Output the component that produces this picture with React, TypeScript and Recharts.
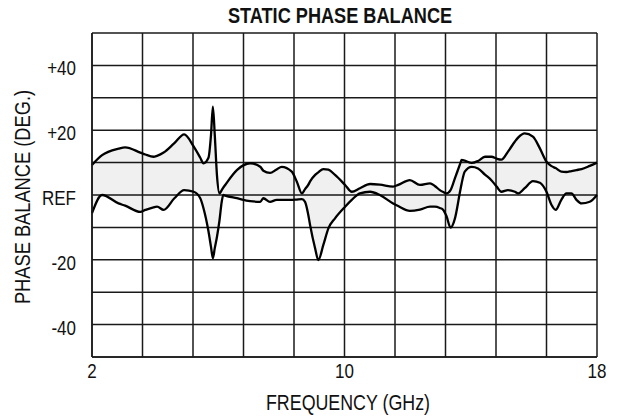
import { ComposedChart, Area, Line, XAxis, YAxis, CartesianGrid } from "recharts";

// frequency (GHz) where both traces were read
const freq = [
  2.0, 2.32, 2.84, 3.05, 3.53, 3.69, 3.95, 4.06, 4.27, 4.61, 4.92, 5.22, 5.43, 5.53, 5.69, 5.77,
  5.83, 5.89, 5.96, 6.04, 6.11, 6.16, 6.22, 6.59, 7.01, 7.33, 7.43, 7.64, 7.85, 8.01, 8.33, 8.49,
  8.65, 8.75, 8.85, 8.91, 9.07, 9.17, 9.33, 9.49, 9.7, 10.02, 10.23, 10.49, 10.81, 11.12, 11.54,
  11.7, 12.07, 12.39, 12.71, 12.86, 13.02, 13.13, 13.23, 13.36, 13.5, 13.66, 13.71, 13.81, 14.03,
  14.23, 14.45, 14.66, 14.82, 14.97, 15.18, 15.4, 15.5, 15.71, 15.97, 16.19, 16.4, 16.56, 16.69,
  16.87, 17.03, 17.19, 17.35, 17.51, 17.77, 18.0,
];

// upper trace (deg)
const upper = [
  9.3, 12.3, 14.3, 14.7, 13.1, 12.5, 11.8, 12.1, 13.1, 16.0, 18.7, 15.0, 11.5, 9.8, 11.5, 18.5,
  27.3, 18.5, 6.0, 0.5, 1.5, 2.3, 3.1, 7.7, 9.8, 8.7, 7.5, 6.8, 7.9, 8.7, 7.2, 4.1,
  0.5, 1.8, 3.1, 4.2, 6.2, 7.0, 8.0, 7.8, 6.2, 3.1, 1.0, 2.1, 3.4, 3.2, 2.6,
  3.1, 4.6, 3.1, 3.6, 2.8, 1.5, 0.9, 0.5, 1.5, 5.2, 9.5, 10.8, 10.6, 9.9,
  10.5, 11.8, 11.8, 11.2, 10.9, 13.4, 16.5, 17.7, 19.0, 18.0, 14.4, 10.3, 8.9, 8.3,
  7.2, 7.1, 7.4, 7.7, 8.0, 9.0, 10.0,
];

// lower trace (deg)
const lower = [
  -5.6, 0, -2.6, -3.3, -5.2, -4.6, -3.8, -3.6, -4.6, -1.0, 1.5, 1.0, -1.0, -4.0, -11.2, -16.0,
  -19.5, -16.4, -12.9, -7.8, -2.1, 0, -0.2, -1.0, -1.9, -2.1, -1.0, -2.1, -1.5, -1.5, -1.5, -1.4,
  -1.3, -2.1, -6.0, -9.3, -16.5, -20.1, -15.4, -10.3, -7.2, -3.6, -1.5, 0.5, 1.0, 0, -2.6,
  -3.4, -4.9, -4.5, -3.6, -3.6, -4.0, -4.6, -6.5, -10.1, -7.2, 1.0, 3.5, 7.2, 8.7,
  8.2, 6.3, 4.5, 2.6, 1.0, 1.5, 1.0, 0.5, 2.1, 4.3, 3.8, 1.0, -3.1, -4.6,
  -1.5, 0.5, 0.5, -1.5, -2.6, -2.1, 0,
];

const xTicks = [2, 3.6, 5.2, 6.8, 8.4, 10, 11.6, 13.2, 14.8, 16.4, 18];
const xLabels: Record<string, string> = { "2": "2", "10": "10", "18": "18" };
const yTicks = [-50, -40, -30, -20, -10, 0, 10, 20, 30, 40, 50];
const yLabels: Record<string, string> = { "40": "+40", "20": "+20", "0": "REF", "-20": "-20", "-40": "-40" };

const data = freq.map((f, i) => ({ f, hi: upper[i], lo: lower[i], band: [lower[i], upper[i]] }));

const FONT = "'Liberation Sans', Arial, sans-serif";
const INK = "#111";

function XTick({ x, y, payload }: any) {
  const t = xLabels[String(payload.value)];
  if (!t) return null;
  return (
    <text transform={`translate(${x} ${y + 13}) scale(0.85 1)`} textAnchor="middle" fontSize={20} fontFamily={FONT} fill={INK}>
      {t}
    </text>
  );
}

function YTick({ x, y, payload }: any) {
  const t = yLabels[String(payload.value)];
  if (!t) return null;
  return (
    <text transform={`translate(${x - 8} ${y + 10}) scale(0.85 1)`} textAnchor="end" fontSize={20} fontFamily={FONT} fill={INK}>
      {t}
    </text>
  );
}

export default function App() {
  return (
    <div style={{ position: "absolute", left: 0, top: 0, width: 617, height: 417, background: "#fff", fontFamily: FONT, color: INK }}>
      <div style={{ position: "absolute", left: 0, width: 680, top: 4, textAlign: "center", fontWeight: "bold", fontSize: 22, lineHeight: "24px", transform: "scaleX(0.825)", whiteSpace: "nowrap" }}>
        STATIC PHASE BALANCE
      </div>
      <div style={{ position: "absolute", left: 148, width: 400, top: 391, textAlign: "center", fontSize: 22, lineHeight: "24px", transform: "scaleX(0.81)", whiteSpace: "nowrap" }}>
        FREQUENCY (GHz)
      </div>
      <div
        style={{
          position: "absolute",
          left: 23 - 150,
          top: 197 - 12,
          width: 300,
          height: 24,
          lineHeight: "24px",
          textAlign: "center",
          fontSize: 22,
          transform: "rotate(-90deg) scaleX(0.83)",
          whiteSpace: "nowrap",
        }}
      >
        PHASE BALANCE (DEG.)
      </div>
      <div style={{ position: "absolute", left: 0, top: 0 }}>
        <ComposedChart width={617} height={417} data={data} margin={{ top: 33, right: 20, bottom: 0, left: 0 }}>
          <CartesianGrid stroke="#1a1a1a" strokeWidth={1.5} />
          <XAxis
            dataKey="f"
            type="number"
            domain={[2, 18]}
            ticks={xTicks}
            interval={0}
            height={60}
            tickLine={false}
            axisLine={{ stroke: "#1a1a1a", strokeWidth: 1.5 }}
            tick={<XTick />}
          />
          <YAxis
            type="number"
            domain={[-50, 50]}
            ticks={yTicks}
            interval={0}
            width={92}
            tickLine={false}
            axisLine={{ stroke: "#1a1a1a", strokeWidth: 1.5 }}
            tick={<YTick />}
          />
          <Area dataKey="band" type="monotone" stroke="none" fill="#000" fillOpacity={0.06} isAnimationActive={false} />
          <Line dataKey="hi" type="monotone" stroke="#000" strokeWidth={2.3} dot={false} isAnimationActive={false} />
          <Line dataKey="lo" type="monotone" stroke="#000" strokeWidth={2.3} dot={false} isAnimationActive={false} />
        </ComposedChart>
      </div>
    </div>
  );
}
